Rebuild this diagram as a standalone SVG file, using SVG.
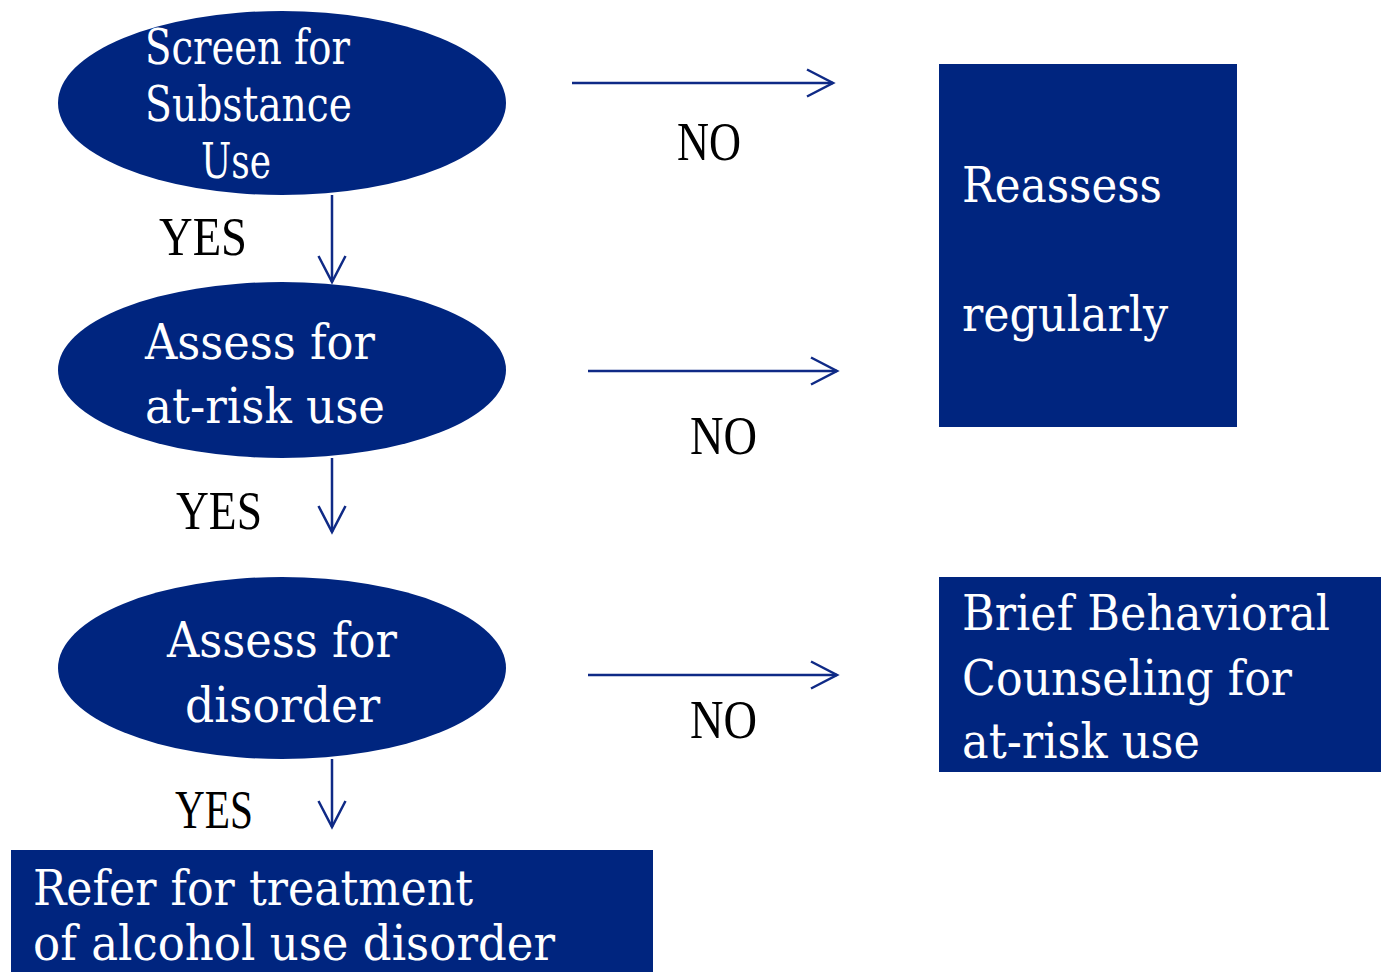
<svg xmlns="http://www.w3.org/2000/svg" width="1381" height="972" viewBox="0 0 1381 972">
<style>
.shape{fill:#00257f;}
.nt{fill:#ffffff;font-family:"DejaVu Serif","Liberation Serif",serif;font-size:48px;}
.lbl{fill:#000000;font-family:"Liberation Serif","DejaVu Serif",serif;font-size:54px;}
.conn{stroke:#0f2a86;stroke-width:2.5;fill:none;}
</style>
<defs>
<marker id="arr" viewBox="0 0 30 30" refX="27" refY="15" markerWidth="30" markerHeight="30" markerUnits="userSpaceOnUse" orient="auto">
<path d="M1,1.5 L27,15 L1,28.5" fill="none" stroke="#0f2a86" stroke-width="2.5"/>
</marker>
</defs>
<rect width="1381" height="972" fill="#ffffff"/>
<g id="connectors">
<line class="conn" x1="572" y1="83" x2="833" y2="83" marker-end="url(#arr)"/>
<line class="conn" x1="588" y1="371" x2="837" y2="371" marker-end="url(#arr)"/>
<line class="conn" x1="588" y1="675" x2="837" y2="675" marker-end="url(#arr)"/>
<line class="conn" x1="332" y1="195" x2="332" y2="282" marker-end="url(#arr)"/>
<line class="conn" x1="332" y1="458" x2="332" y2="532" marker-end="url(#arr)"/>
<line class="conn" x1="332" y1="759" x2="332" y2="827" marker-end="url(#arr)"/>
<text class="lbl" x="677" y="160" textLength="64" lengthAdjust="spacingAndGlyphs">NO</text>
<text class="lbl" x="690" y="454" textLength="67" lengthAdjust="spacingAndGlyphs">NO</text>
<text class="lbl" x="690" y="738" textLength="67" lengthAdjust="spacingAndGlyphs">NO</text>
<text class="lbl" x="159" y="255" textLength="88" lengthAdjust="spacingAndGlyphs">YES</text>
<text class="lbl" x="176" y="529" textLength="86" lengthAdjust="spacingAndGlyphs">YES</text>
<text class="lbl" x="175" y="828" textLength="78" lengthAdjust="spacingAndGlyphs">YES</text>
</g>
<g id="screen">
<ellipse class="shape" cx="282" cy="103" rx="224" ry="92"/>
<text class="nt" x="145" y="64" font-size="44" textLength="205" lengthAdjust="spacingAndGlyphs">Screen for</text>
<text class="nt" x="145" y="121" font-size="44" textLength="207" lengthAdjust="spacingAndGlyphs">Substance</text>
<text class="nt" x="201" y="178" font-size="44" textLength="70" lengthAdjust="spacingAndGlyphs">Use</text>
</g>
<g id="assess-risk">
<ellipse class="shape" cx="282" cy="370" rx="224" ry="88"/>
<text class="nt" x="145" y="359" font-size="49" textLength="230" lengthAdjust="spacingAndGlyphs">Assess for</text>
<text class="nt" x="145" y="423" font-size="49" textLength="240" lengthAdjust="spacingAndGlyphs">at-risk use</text>
</g>
<g id="assess-disorder">
<ellipse class="shape" cx="282" cy="668" rx="224" ry="91"/>
<text class="nt" x="167" y="657" textLength="230" lengthAdjust="spacingAndGlyphs">Assess for</text>
<text class="nt" x="185" y="722" textLength="195" lengthAdjust="spacingAndGlyphs">disorder</text>
</g>
<g id="reassess">
<rect class="shape" x="939" y="64" width="298" height="363"/>
<text class="nt" x="962" y="202" textLength="200" lengthAdjust="spacingAndGlyphs">Reassess</text>
<text class="nt" x="962" y="331" textLength="206" lengthAdjust="spacingAndGlyphs">regularly</text>
</g>
<g id="brief">
<rect class="shape" x="939" y="577" width="442" height="195"/>
<text class="nt" x="962" y="630" textLength="368" lengthAdjust="spacingAndGlyphs">Brief Behavioral</text>
<text class="nt" x="962" y="695" textLength="330" lengthAdjust="spacingAndGlyphs">Counseling for</text>
<text class="nt" x="962" y="758" textLength="238" lengthAdjust="spacingAndGlyphs">at-risk use</text>
</g>
<g id="refer">
<rect class="shape" x="11" y="850" width="642" height="122"/>
<text class="nt" x="33" y="905" textLength="440" lengthAdjust="spacingAndGlyphs">Refer for treatment</text>
<text class="nt" x="33" y="960" textLength="522" lengthAdjust="spacingAndGlyphs">of alcohol use disorder</text>
</g>
</svg>
